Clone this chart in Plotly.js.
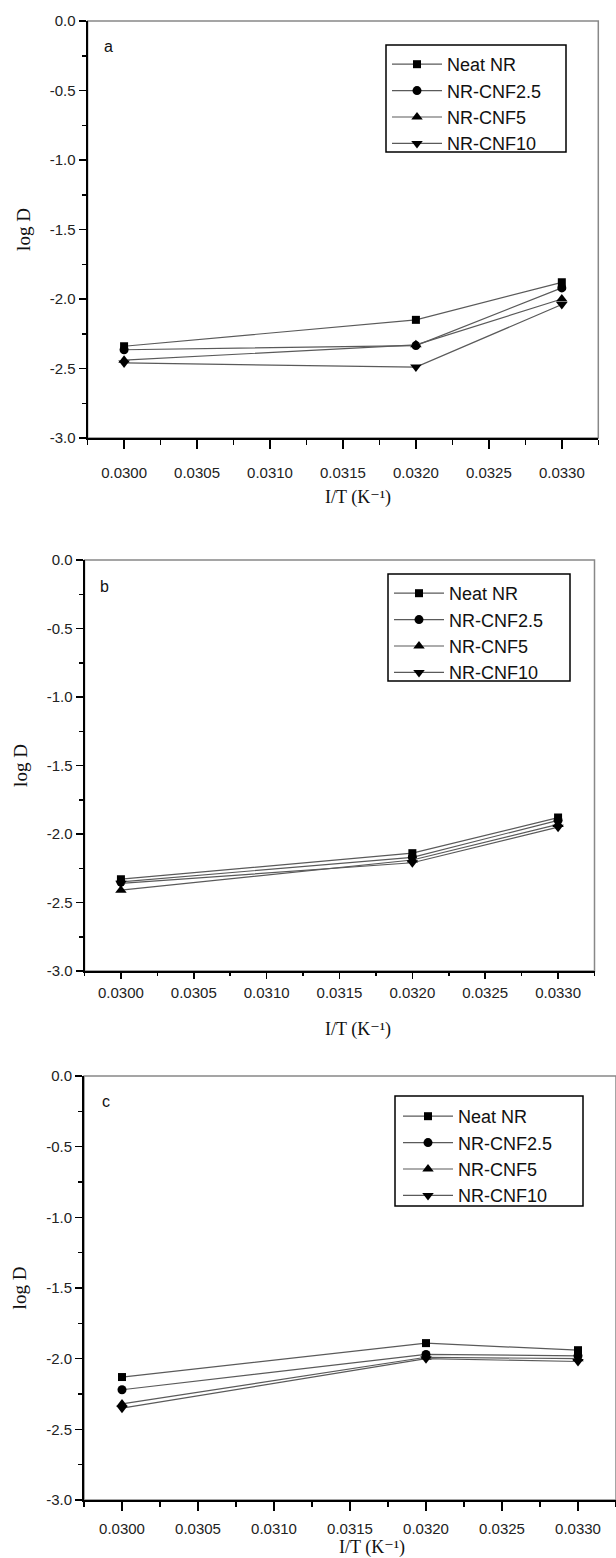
<!DOCTYPE html>
<html>
<head>
<meta charset="utf-8">
<script src="https://cdn.plot.ly/plotly-3.0.1.min.js"></script>
<style>html,body{margin:0;padding:0;background:#fff;}#chart{width:616px;height:1558px;}</style>
</head>
<body>
<div id="chart"></div>
<script>
// ---- data ----
const xInvT = [0.0300, 0.0320, 0.0330];
const seriesNames = ["Neat NR", "NR-CNF2.5", "NR-CNF5", "NR-CNF10"];
// panel a
const aNeat   = [-2.34, -2.15, -1.88];
const aCNF2_5 = [-2.365, -2.335, -1.92];
const aCNF5   = [-2.44, -2.33, -2.00];
const aCNF10  = [-2.46, -2.49, -2.04];
// panel b
const bNeat   = [-2.33, -2.14, -1.88];
const bCNF2_5 = [-2.35, -2.17, -1.90];
const bCNF5   = [-2.41, -2.19, -1.93];
const bCNF10  = [-2.36, -2.21, -1.95];
// panel c
const cNeat   = [-2.13, -1.89, -1.94];
const cCNF2_5 = [-2.22, -1.97, -1.98];
const cCNF5   = [-2.32, -1.99, -2.00];
const cCNF10  = [-2.35, -2.00, -2.02];
const panelLetters = ["a", "b", "c"];
const xTickVals = [0.0300, 0.0305, 0.0310, 0.0315, 0.0320, 0.0325, 0.0330];
const xTickText = ["0.0300", "0.0305", "0.0310", "0.0315", "0.0320", "0.0325", "0.0330"];
const xMinorVals = [0.02975, 0.03025, 0.03075, 0.03125, 0.03175, 0.03225, 0.03275, 0.03325];
const yTickVals = [0, -0.5, -1.0, -1.5, -2.0, -2.5, -3.0];
const yTickText = ["0.0", "-0.5", "-1.0", "-1.5", "-2.0", "-2.5", "-3.0"];
const yMinorVals = [-0.25, -0.75, -1.25, -1.75, -2.25, -2.75];
const xTitle = "I/T (K\u207B\u00B9)";
const yTitle = "log D";

// ---- layout geometry (pixels) ----
const W = 616, H = 1558;
const panels = [
  {x0: 87.6, x1: 598.3, y0: 21,   y1: 438,  tl: 9, ml: 5, standoff: 11, xt: [358, 497],  letter: [108, 47],
   box: [386, 566, 45, 152],   leg: [387, 46]},
  {x0: 84.5, x1: 594.5, y0: 560,  y1: 971,  tl: 6, ml: 3, standoff: 1,  xt: [358, 1029], letter: [105, 586],
   box: [388, 570, 574, 681],  leg: [389, 575]},
  {x0: 84,   x1: 616,   y0: 1076, y1: 1500, tl: 9, ml: 5, standoff: 5,  xt: [372, 1547], letter: [106, 1101],
   box: [395, 583, 1096, 1206], leg: [398, 1098]}
];
const panelData = [
  [aNeat, aCNF2_5, aCNF5, aCNF10],
  [bNeat, bCNF2_5, bCNF5, bCNF10],
  [cNeat, cCNF2_5, cCNF5, cCNF10]
];
const symbols = ["square", "circle", "triangle-up", "triangle-down"];
const sizes = [8, 9, 10, 10];

const tickFont = {family: "Liberation Sans, Arial, sans-serif", size: 15, color: "#222"};
const serif = "Liberation Serif, DejaVu Serif, Times New Roman, serif";

const traces = [];
const layout = {
  width: W, height: H,
  margin: {l: 0, r: 0, t: 0, b: 0},
  paper_bgcolor: "#fff", plot_bgcolor: "#fff",
  showlegend: true,
  shapes: [], annotations: []
};

panels.forEach((p, i) => {
  const s = i === 0 ? "" : String(i + 1);
  const xa = "xaxis" + s, ya = "yaxis" + s;
  const legName = "legend" + s;
  panelData[i].forEach((vals, k) => {
    traces.push({
      x: xInvT, y: vals, name: seriesNames[k],
      type: "scatter", mode: "lines+markers",
      xaxis: "x" + s, yaxis: "y" + s, legend: legName,
      line: {color: "#5a5a5a", width: 1.2},
      marker: {symbol: symbols[k], size: sizes[k], color: "#000"}
    });
  });
  layout[xa] = {
    domain: [p.x0 / W, p.x1 / W], anchor: "y" + s,
    range: [0.02975, 0.03325],
    tickmode: "array", tickvals: xTickVals, ticktext: xTickText,
    ticks: "outside", ticklen: p.tl, tickwidth: 1.5, tickcolor: "#000",
    minor: {tickmode: "array", tickvals: xMinorVals, ticks: "outside", ticklen: p.ml, tickwidth: 1.5, tickcolor: "#000", showgrid: false},
    showline: true, linecolor: "#000", linewidth: 2,
    showgrid: false, zeroline: false, tickfont: tickFont,
    ticklabelstandoff: p.standoff, fixedrange: true
  };
  layout[ya] = {
    domain: [1 - p.y1 / H, 1 - p.y0 / H], anchor: "x" + s,
    range: [-3, 0],
    tickmode: "array", tickvals: yTickVals, ticktext: yTickText,
    ticks: "outside", ticklen: 7, tickwidth: 1.5, tickcolor: "#000",
    minor: {tickmode: "array", tickvals: yMinorVals, ticks: "outside", ticklen: 4, tickwidth: 1.5, tickcolor: "#000", showgrid: false},
    showline: true, linecolor: "#000", linewidth: 2,
    showgrid: false, zeroline: false, tickfont: tickFont, fixedrange: true,
    title: {text: yTitle, standoff: 14, font: {family: serif, size: 19, color: "#111"}}
  };
  layout[legName] = {
    x: p.leg[0] / W, y: 1 - p.leg[1] / H, xanchor: "left", yanchor: "top",
    xref: "paper", yref: "paper",
    bgcolor: "rgba(0,0,0,0)", borderwidth: 0,
    font: {family: "Liberation Sans, Arial, sans-serif", size: 18, color: "#111"},
    itemwidth: 50, tracegroupgap: 0
  };
  // plot frame (thin grey top/right; black axes drawn over left/bottom)
  layout.shapes.push({
    type: "rect", xref: "x" + s + " domain", yref: "y" + s + " domain",
    x0: 0, x1: 1, y0: 0, y1: 1, line: {color: "#888", width: 1.5}, layer: "below"
  });
  // legend box
  layout.shapes.push({
    type: "rect", xref: "paper", yref: "paper",
    x0: p.box[0] / W, x1: p.box[1] / W, y0: 1 - p.box[3] / H, y1: 1 - p.box[2] / H,
    line: {color: "#000", width: 1.5}, fillcolor: "#fff", layer: "below"
  });
  layout.annotations.push({
    text: panelLetters[i], xref: "paper", yref: "paper",
    x: p.letter[0] / W, y: 1 - p.letter[1] / H, xanchor: "center", yanchor: "middle",
    showarrow: false, font: {family: "Liberation Sans, Arial, sans-serif", size: 16, color: "#111"}
  });
  layout.annotations.push({
    text: xTitle, xref: "paper", yref: "paper",
    x: p.xt[0] / W, y: 1 - p.xt[1] / H, xanchor: "center", yanchor: "middle",
    showarrow: false, font: {family: serif, size: 18, color: "#111"}
  });
});

Plotly.newPlot("chart", traces, layout, {staticPlot: true, displayModeBar: false});
</script>
</body>
</html>
